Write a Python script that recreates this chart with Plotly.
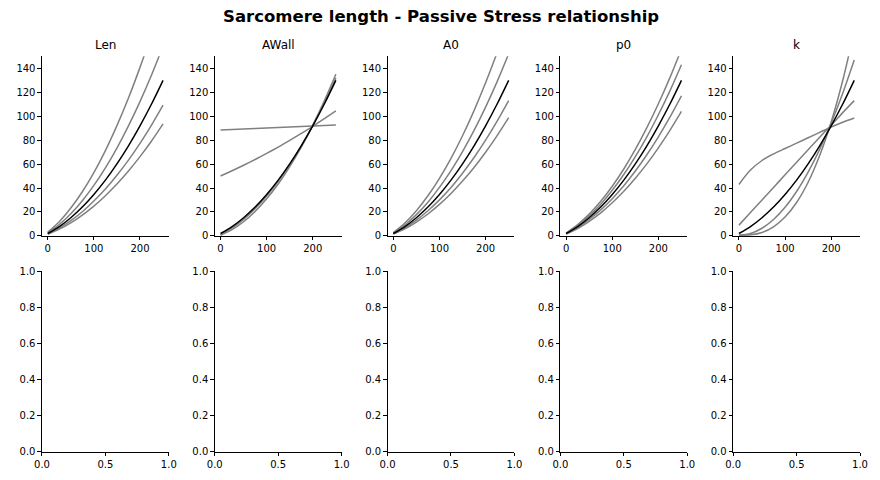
import plotly.graph_objects as go
from plotly.subplots import make_subplots

# ---------------- data ----------------
x_vals = [0, 25, 50, 75, 100, 125, 150, 175, 200, 225, 250]
panel_titles = ["Len", "AWall", "A0", "p0", "k"]
suptitle = "Sarcomere length - Passive Stress relationship"

baseline = [2.0, 7.8, 15.2, 24.1, 34.6, 46.6, 60.2, 75.3, 92.0, 110.2, 130.0]

len_curves = [
    [3.1, 11.9, 23.3, 36.9, 52.9, 71.3, 92.1, 115.2, 140.8, 168.6, 198.9],
    [2.4, 9.5, 18.5, 29.4, 42.2, 56.9, 73.4, 91.9, 112.2, 134.4, 158.6],
    [1.7, 6.6, 12.8, 20.2, 29.1, 39.1, 50.6, 63.3, 77.3, 92.6, 109.2],
    [1.4, 5.6, 10.9, 17.4, 24.9, 33.6, 43.3, 54.2, 66.2, 79.3, 93.6],
]
awall_curves = [
    [0.5, 5.2, 11.8, 20.4, 31.0, 43.4, 57.9, 74.2, 92.5, 112.8, 135.0],
    [1.0, 6.6, 13.8, 22.8, 33.3, 45.6, 59.5, 75.2, 92.4, 111.4, 132.0],
    [50.0, 54.4, 59.0, 63.8, 68.9, 74.2, 79.8, 85.6, 91.6, 97.9, 104.4],
    [88.5, 88.9, 89.3, 89.8, 90.2, 90.6, 91.0, 91.4, 91.9, 92.3, 92.7],
]
a0_curves = [
    [2.8, 10.8, 21.1, 33.5, 48.1, 64.8, 83.7, 104.7, 127.9, 153.2, 180.7],
    [2.3, 9.1, 17.8, 28.2, 40.5, 54.5, 70.4, 88.1, 107.6, 128.9, 152.1],
    [1.7, 6.8, 13.2, 21.0, 30.1, 40.5, 52.4, 65.5, 80.0, 95.9, 113.1],
    [1.5, 5.9, 11.6, 18.3, 26.3, 35.4, 45.8, 57.2, 69.9, 83.8, 98.8],
]
p0_curves = [
    [2.4, 9.4, 18.2, 28.9, 41.5, 55.9, 72.2, 90.4, 110.4, 132.2, 156.0],
    [2.2, 8.6, 16.7, 26.5, 38.1, 51.3, 66.2, 82.8, 101.2, 121.2, 143.0],
    [1.8, 7.0, 13.7, 21.7, 31.1, 41.9, 54.2, 67.8, 82.8, 99.2, 117.0],
    [1.6, 6.2, 12.2, 19.3, 27.7, 37.3, 48.2, 60.2, 73.6, 88.2, 104.0],
]
k_curves = [
    [43.0, 55.0, 63.0, 68.5, 73.0, 77.5, 82.0, 86.5, 91.0, 95.0, 98.5],
    [9.0, 19.5, 30.0, 40.5, 51.0, 61.5, 72.0, 82.5, 92.5, 103.0, 113.0],
    [0.5, 2.0, 6.4, 13.7, 23.9, 37.1, 53.3, 72.3, 94.3, 119.2, 147.0],
    [0.5, 0.9, 2.9, 7.6, 15.7, 27.9, 44.8, 67.1, 95.2, 129.8, 171.2],
]
all_curves = [len_curves, awall_curves, a0_curves, p0_curves, k_curves]

top_yticks = [0, 20, 40, 60, 80, 100, 120, 140]
top_xticks = [0, 100, 200]
bot_yticks = [0.0, 0.2, 0.4, 0.6, 0.8, 1.0]
bot_xticks = [0.0, 0.5, 1.0]

# ---------------- figure ----------------
W, H = 880, 480
# observed placement of the paper area in the rendered page
OX, OY, PW, PH = 15.0, 15.0, 865.0, 465.0


def fx(px):
    return (px - OX) / PW


def fy(py):
    return 1 - (py - OY) / PH


fig = make_subplots(rows=2, cols=5)

col_left = [41, 214, 387, 560, 733]
ax_w = 127
top_px = (57, 235)
bot_px = (270, 449)

font_family = "DejaVu Sans"
axis_common = dict(showline=True, linecolor="black", linewidth=1, ticks="outside",
                   ticklen=3.5, tickwidth=0.8, tickcolor="black", showgrid=False,
                   zeroline=False, mirror=False,
                   tickfont=dict(family=font_family, size=10, color="black"))

for c in range(5):
    for curve in all_curves[c]:
        fig.add_trace(go.Scatter(x=x_vals, y=curve, mode="lines",
                                 line=dict(color="gray", width=1.5, shape="spline", smoothing=0.8),
                                 showlegend=False, hoverinfo="skip"), row=1, col=c + 1)
    fig.add_trace(go.Scatter(x=x_vals, y=baseline, mode="lines",
                             line=dict(color="black", width=1.5, shape="spline", smoothing=0.8),
                             showlegend=False, hoverinfo="skip"), row=1, col=c + 1)
    fig.add_trace(go.Scatter(x=[], y=[], mode="lines", showlegend=False), row=2, col=c + 1)

    xd = [fx(col_left[c]), fx(col_left[c] + ax_w)]
    fig.update_xaxes(domain=xd, range=[-12.5, 262.5], tickvals=top_xticks, row=1, col=c + 1, **axis_common)
    fig.update_yaxes(domain=[fy(top_px[1]), fy(top_px[0])], range=[0, 150],
                     tickvals=top_yticks, row=1, col=c + 1, **axis_common)
    fig.update_xaxes(domain=xd, range=[0, 1], tickvals=bot_xticks,
                     ticktext=["%.1f" % v for v in bot_xticks], row=2, col=c + 1, **axis_common)
    fig.update_yaxes(domain=[fy(bot_px[1]), fy(bot_px[0])], range=[0, 1],
                     tickvals=bot_yticks, ticktext=["%.1f" % v for v in bot_yticks],
                     row=2, col=c + 1, **axis_common)

    fig.add_annotation(text=panel_titles[c], xref="paper", yref="paper",
                       x=fx(col_left[c] + ax_w / 2), y=fy(46),
                       showarrow=False, xanchor="center", yanchor="middle",
                       font=dict(family=font_family, size=12, color="black"))

fig.add_annotation(text="<b>" + suptitle + "</b>", xref="paper", yref="paper",
                   x=fx(440), y=fy(17), showarrow=False, xanchor="center", yanchor="middle",
                   font=dict(family=font_family, size=16.5, color="black"))

fig.update_layout(width=W, height=H, margin=dict(l=0, r=0, t=0, b=0),
                  plot_bgcolor="white", paper_bgcolor="white",
                  font=dict(family=font_family, color="black"))

fig.write_html("out.html")
